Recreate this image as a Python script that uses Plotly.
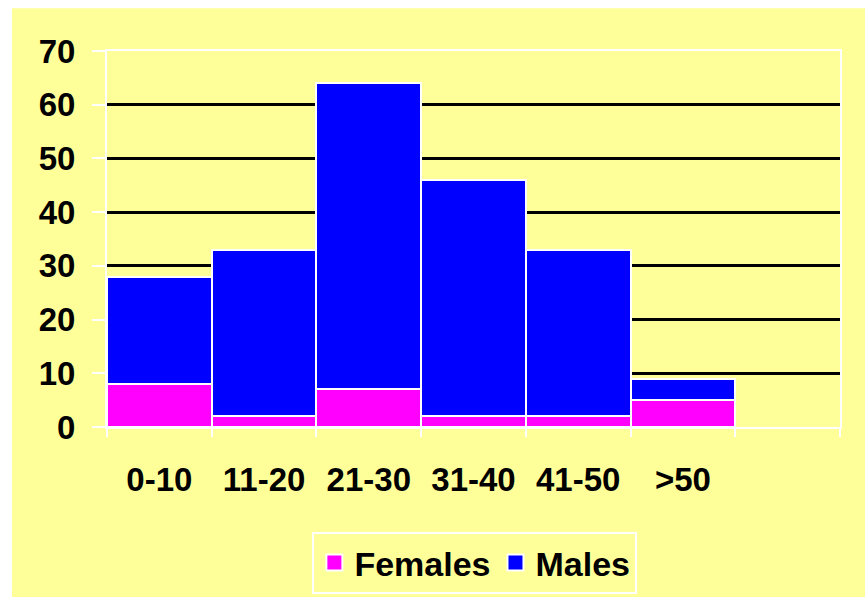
import plotly.graph_objects as go

categories = ["0-10", "11-20", "21-30", "31-40", "41-50", ">50"]
females = [8, 2, 7, 2, 2, 5]
males = [20, 31, 57, 44, 31, 4]
y_ticks = [0, 10, 20, 30, 40, 50, 60, 70]

YELLOW = "#FFFF99"
FONT = dict(family="Arial, Liberation Sans, sans-serif", size=33, color="black", weight="bold")
LFONT = dict(family="Arial, Liberation Sans, sans-serif", size=34, color="black", weight="bold")

fig = go.Figure()
fig.add_trace(go.Bar(x=categories, y=females, name="Females", showlegend=False,
                     marker=dict(color="#FF00FF", line=dict(color="white", width=2.5))))
fig.add_trace(go.Bar(x=categories, y=males, name="Males", showlegend=False,
                     marker=dict(color="#0000FF", line=dict(color="white", width=2.5))))
# legend proxies
fig.add_trace(go.Scatter(x=[None], y=[None], mode="markers", name="Females",
                         marker=dict(symbol="square", size=22, color="#FF00FF",
                                     line=dict(color="white", width=2))))
fig.add_trace(go.Scatter(x=[None], y=[None], mode="markers", name="Males",
                         marker=dict(symbol="square", size=22, color="#0000FF",
                                     line=dict(color="white", width=2))))

fig.update_layout(
    width=865, height=597,
    margin=dict(l=107, r=25, t=51, b=170),
    paper_bgcolor="white",
    plot_bgcolor=YELLOW,
    barmode="stack",
    bargap=0,
    font=FONT,
    showlegend=True,
    legend=dict(orientation="h", xref="container", yref="container",
                x=0.549, xanchor="center", y=0.109, yanchor="top",
                bgcolor=YELLOW, bordercolor="white", borderwidth=2, traceorder="normal",
                font=LFONT, itemsizing="trace"),
    shapes=[dict(type="rect", xref="paper", yref="paper", x0=-0.1296, x1=1.2,
                 y0=-0.6, y1=1.114, fillcolor=YELLOW, line=dict(width=0), layer="below")],
)
fig.update_xaxes(
    categoryorder="array", categoryarray=categories + [" "],
    range=[-0.5, 6.5], automargin=False,
    tickson="boundaries", ticks="outside", ticklen=8, tickwidth=2, tickcolor="white",
    showline=True, linecolor="white", linewidth=2, mirror=True,
    showgrid=False, ticklabelstandoff=22, tickfont=FONT,
)
fig.update_yaxes(
    range=[0, 70], tickvals=y_ticks, automargin=False,
    ticks="outside", ticklen=13, tickwidth=2, tickcolor="white",
    showline=True, linecolor="white", linewidth=2, mirror=True,
    showgrid=True, gridcolor="black", gridwidth=2.5, zeroline=False,
    ticklabelstandoff=10, tickfont=FONT,
)

fig.write_html("out.html", config={"displayModeBar": False},
               post_script="document.body.style.margin='0';")
